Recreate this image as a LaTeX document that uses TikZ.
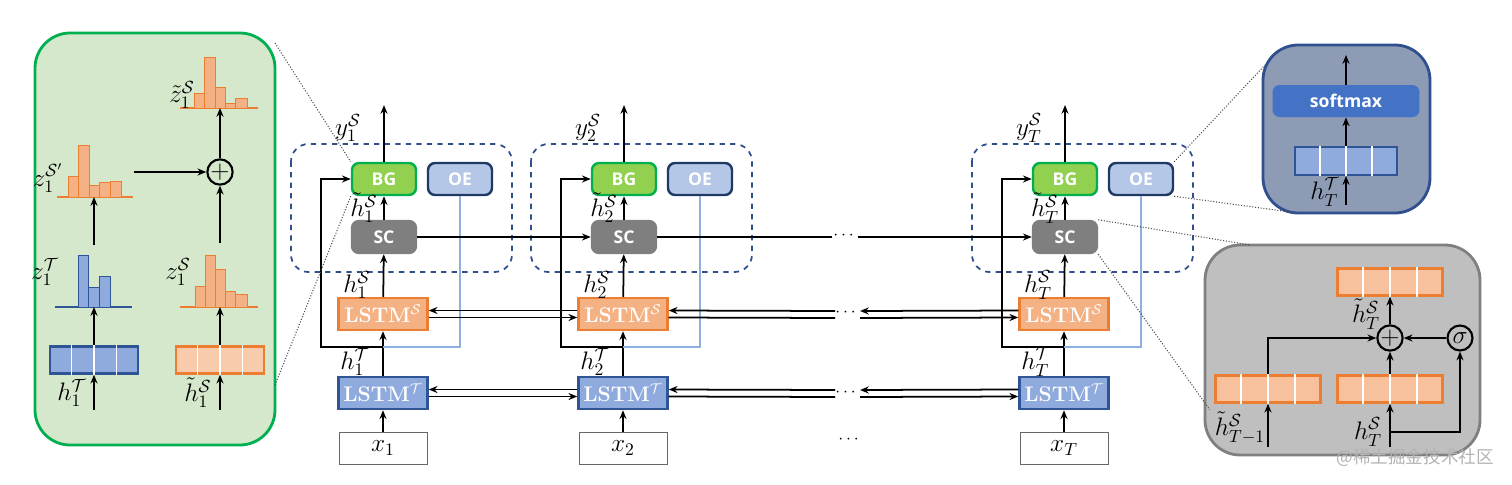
\documentclass[tikz,border=0pt]{standalone}
\usepackage{fontspec}
\usepackage{amsmath}
\newfontfamily\osans{Open Sans}
\newfontfamily\cjk{Noto Sans CJK SC}
\usetikzlibrary{calc,arrows.meta}
\definecolor{bgf}{HTML}{92D050}\definecolor{bgs}{HTML}{00B050}
\definecolor{oef}{HTML}{B4C7E7}\definecolor{oes}{HTML}{203864}
\definecolor{scf}{HTML}{7F7F7F}
\definecolor{orf}{HTML}{F8CBAD}\definecolor{ors}{HTML}{ED7D31}\definecolor{orb}{HTML}{F4B183}
\definecolor{blf}{HTML}{8FAADC}\definecolor{bls}{HTML}{2F5597}
\definecolor{dashc}{HTML}{2F4F8F}
\definecolor{lblue}{HTML}{8EB0E0}
\definecolor{insb}{HTML}{8D9BB5}
\definecolor{insg}{HTML}{D5E8CC}
\definecolor{smf}{HTML}{4472C4}
\begin{document}
\begin{tikzpicture}[x=0.02cm,y=-0.02cm,>={Stealth[length=5pt,width=4pt]},
 box/.style={rounded corners=4pt,line width=1.4pt,minimum width=1.28cm,minimum height=0.64cm,inner sep=0pt,text=white,font=\osans\bfseries},
 lstm/.style={line width=1.4pt,minimum width=1.78cm,minimum height=0.64cm,inner sep=0pt,text=white,font=\bfseries\large},
 xbox/.style={draw=black!60,minimum width=1.76cm,minimum height=0.64cm,font=\Large},
 vec/.style={line width=1.4pt,minimum width=1.76cm,minimum height=0.54cm},
 ar/.style={->,line width=1pt},
 dotl/.style={densely dotted,black!70,line width=0.6pt},
 circ/.style={circle,draw,line width=1.2pt,minimum size=0.5cm,inner sep=0pt},
 lab/.style={font=\Large,inner sep=0pt}]
\useasboundingbox (0,0) rectangle (1512,484);
% insets first
\draw[bgs,line width=1.6pt,fill=insg,rounded corners=20pt] (35,33) rectangle (275,445);
\draw[dashc,line width=1.6pt,fill=insb,rounded corners=20pt] (1263,45) rectangle (1430,213);
\draw[black!50,line width=1.6pt,fill=black!25,rounded corners=20pt] (1205,245) rectangle (1480,455);
% columns
\foreach \o/\i/\n in {0/1/a,240/2/b,681/T/c}{
 \begin{scope}[xshift=\o*0.02cm]
 \draw[dashc,dashed,line width=1pt,rounded corners=10pt] (291,144) rectangle (512,272);
 \node[box,draw=bgs,fill=bgf] (BG\n) at (384,179) {BG};
 \node[box,draw=oes,fill=oef] (OE\n) at (460,179) {OE};
 \node[box,draw=scf,fill=scf] (SC\n) at (384,237) {SC};
 \node[lstm,draw=ors,fill=orb] (LS\n) at (383,314) {LSTM$^{\mathcal{S}}$};
 \node[lstm,draw=bls,fill=blf] (LT\n) at (383,393) {LSTM$^{\mathcal{T}}$};
 \node[xbox] (X\n) at (383,448) {$x_{\i}$};
 \coordinate (F\n) at (383,347);
 \coordinate (Y\n) at (384,105);
 \draw[ar] (X\n) -- (LT\n);
 \draw[ar] (LT\n) -- (LS\n);
 \draw[ar] (LS\n) -- (SC\n);
 \draw[ar] (SC\n) -- (BG\n);
 \draw[ar] (BG\n) -- (Y\n);
 \draw[lblue,line width=0.8pt] (F\n) -| (OE\n.south);
 \draw[->,line width=1pt] (F\n) -- (321,347) |- (BG\n.west);
 \node[lab] at (348,128) {$y^{\mathcal{S}}_{\i}$};
 \node[lab] at (364,208) {$\tilde h^{\mathcal{S}}_{\i}$};
 \node[lab] at (357,285) {$h^{\mathcal{S}}_{\i}$};
 \node[lab] at (355,362) {$h^{\mathcal{T}}_{\i}$};
 \end{scope}}
% horizontal connections
\coordinate (d1) at (832,237);\coordinate (d2) at (858,237);
\draw[ar] (SCa) -- (SCb);
\draw[line width=1pt] (SCb) -- (d1);
\draw[ar] (d2) -- (SCc);
\node at (845,236) {$\cdots$};
\foreach \r in {S,T}{
 \draw[ar] ([yshift=0.07cm]L\r b.west) -- ([yshift=0.07cm]L\r a.east);
 \draw[ar] ([yshift=-0.07cm]L\r a.east) -- ([yshift=-0.07cm]L\r b.west);
}
\coordinate (s1) at (835,311);\coordinate (s2) at (860,311);
\coordinate (s3) at (835,318);\coordinate (s4) at (860,318);
\coordinate (t1) at (835,390);\coordinate (t2) at (860,390);
\coordinate (t3) at (835,397);\coordinate (t4) at (860,397);
\draw[ar] (s1) -- ([yshift=0.07cm]LSb.east);
\draw[line width=1pt] ([yshift=-0.07cm]LSb.east) -- (s3);
\draw[ar] ([yshift=0.07cm]LSc.west) -- (s2);
\draw[ar] (s4) -- ([yshift=-0.07cm]LSc.west);
\draw[ar] (t1) -- ([yshift=0.07cm]LTb.east);
\draw[line width=1pt] ([yshift=-0.07cm]LTb.east) -- (t3);
\draw[ar] ([yshift=0.07cm]LTc.west) -- (t2);
\draw[ar] (t4) -- ([yshift=-0.07cm]LTc.west);
\node at (847,313) {$\cdots$};
\node at (847,393) {$\cdots$};
\node at (850,440) {$\cdots$};
% green inset contents
\node[vec,draw=bls,fill=blf] (v1) at (94,360) {};
\node[vec,draw=ors,fill=orf] (v2) at (220,360) {};
\foreach \v in {v1,v2}{\foreach \k in {1,2,3}{\draw[white,line width=0.8pt] ($(\v.south west)!\k/4!(\v.south east)$) -- ($(\v.north west)!\k/4!(\v.north east)$);}}
\coordinate (i1) at (94,410);\coordinate (i2) at (220,410);
\draw[ar] (i1) -- (v1);\draw[ar] (i2) -- (v2);
\node[lab] at (72,393) {$h^{\mathcal{T}}_1$};
\node[lab] at (198,393) {$\tilde h^{\mathcal{S}}_1$};
\draw[bls,line width=0.6pt] (55,307) -- (132,307);
\foreach \a/\b/\t in {78/88/255,88/99/287,99/110/276}{\draw[bls,fill=blf] (\a,307) rectangle (\b,\t);}
\draw[ors,line width=0.6pt] (180,307) -- (258,307);
\foreach \a/\b/\t in {195/205/286,205/215/255,215/225/269,225/235/291,235/247/294}{\draw[ors,fill=orb] (\a,307) rectangle (\b,\t);}
\draw[ors,line width=0.6pt] (57,197) -- (133,197);
\foreach \a/\b/\t in {68/78/176,78/89/145,89/99/185,99/110/182,110/121/181}{\draw[ors,fill=orb] (\a,197) rectangle (\b,\t);}
\draw[ors,line width=0.6pt] (180,108) -- (258,108);
\foreach \a/\b/\t in {194/204/93,204/215/57,215/225/87,225/235/103,235/247/98}{\draw[ors,fill=orb] (\a,108) rectangle (\b,\t);}
\coordinate (zt) at (94,307);\coordinate (zs) at (220,307);
\coordinate (zp) at (94,197);\coordinate (zq) at (94,245);\coordinate (zr) at (220,243);
\coordinate (zpr) at (134,172);\coordinate (zw) at (220,108);
\draw[ar] (v1) -- (zt);\draw[ar] (v2) -- (zs);
\draw[ar] (zq) -- (zp);
\node[circ] (pl1) at (220,172) {\Large$+$};
\draw[ar] (zpr) -- (pl1);\draw[ar] (zr) -- (pl1);\draw[ar] (pl1) -- (zw);
\node[lab] at (48,178) {$z^{\mathcal{S}'}_1$};
\node[lab] at (45,272) {$z^{\mathcal{T}}_1$};
\node[lab] at (178,272) {$z^{\mathcal{S}}_1$};
\node[lab] at (182,95) {$\tilde z^{\mathcal{S}}_1$};
% blue inset contents
\node[rounded corners=4pt,fill=smf,minimum width=2.94cm,minimum height=0.64cm,text=white,font=\osans\bfseries] (sm) at (1346,101) {softmax};
\node[draw=bls,line width=1.2pt,fill=blf,minimum width=2.04cm,minimum height=0.56cm] (v3) at (1346,161) {};
\foreach \k in {1,2,3}{\draw[white,line width=0.8pt] ($(v3.south west)!\k/4!(v3.south east)$) -- ($(v3.north west)!\k/4!(v3.north east)$);}
\coordinate (b1) at (1346,205);\coordinate (b2) at (1346,55);
\draw[ar] (b1) -- (v3);\draw[ar] (v3) -- (sm);\draw[ar] (sm) -- (b2);
\node[lab] at (1325,192) {$h^{\mathcal{T}}_{T}$};
% gray inset contents
\node[vec,draw=ors,fill=orb!80!white,minimum width=2.1cm] (g1) at (1390,282) {};
\node[vec,draw=ors,fill=orb!80!white,minimum width=2.1cm] (g2) at (1268,389) {};
\node[vec,draw=ors,fill=orb!80!white,minimum width=2.1cm] (g3) at (1390,389) {};
\foreach \v in {g1,g2,g3}{\foreach \k in {1,2,3}{\draw[white,line width=0.8pt] ($(\v.south west)!\k/4!(\v.south east)$) -- ($(\v.north west)!\k/4!(\v.north east)$);}}
\node[circ] (pl2) at (1390,338) {\Large$+$};
\node[circ] (sg) at (1460,338) {\Large$\sigma$};
\coordinate (gi1) at (1268,447);\coordinate (gi2) at (1390,447);\coordinate (gb) at (1390,432);
\draw[ar] (gi1) -- (g2);\draw[ar] (gi2) -- (g3);
\draw[ar] (gb) -| (sg);
\draw[ar] (g2.north) |- (pl2);
\draw[ar] (g3) -- (pl2);\draw[ar] (sg) -- (pl2);\draw[ar] (pl2) -- (g1);
\node[lab] at (1240,428) {$\tilde h^{\mathcal{S}}_{T-1}$};
\node[lab] at (1368,432) {$h^{\mathcal{S}}_{T}$};
\node[lab] at (1366,314) {$\tilde h^{\mathcal{S}}_{T}$};
% zoom lines
\coordinate (gz1) at (275,43);\coordinate (gz2) at (275,385);
\draw[dotl] (gz1) -- (BGa.north west);\draw[dotl] (gz2) -- (BGa.south west);
\coordinate (bz1) at (1265,65);\coordinate (bz2) at (1290,212);
\draw[dotl] (OEc.north east) -- (bz1);\draw[dotl] (OEc.south east) -- (bz2);
\coordinate (cz1) at (1250,245);\coordinate (cz2) at (1210,410);
\draw[dotl] (SCc.north east) -- (cz1);\draw[dotl] (SCc.south east) -- (cz2);
\node[text=black!30,font=\cjk,anchor=east] at (1500,458) {@稀土掘金技术社区};
\end{tikzpicture}
\end{document}
